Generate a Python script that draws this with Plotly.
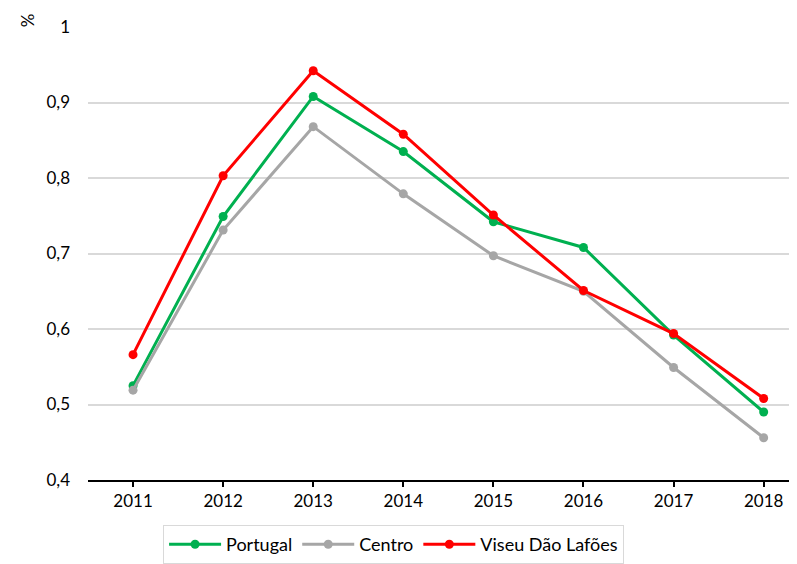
import plotly.graph_objects as go

years = [2011, 2012, 2013, 2014, 2015, 2016, 2017, 2018]
portugal = [0.525, 0.749, 0.908, 0.835, 0.742, 0.708, 0.592, 0.490]
centro = [0.519, 0.731, 0.868, 0.779, 0.697, 0.650, 0.549, 0.456]
viseu = [0.566, 0.803, 0.942, 0.858, 0.751, 0.651, 0.594, 0.508]
y_ticks = [0.4, 0.5, 0.6, 0.7, 0.8, 0.9, 1.0]
y_labels = ["0,4", "0,5", "0,6", "0,7", "0,8", "0,9", "1"]

series = [
    ("Portugal", portugal, "#00B050"),
    ("Centro", centro, "#A6A6A6"),
    ("Viseu Dão Lafões", viseu, "#FF0000"),
]

fig = go.Figure()
for name, vals, color in series:
    fig.add_trace(go.Scatter(
        x=years, y=vals, name=name, mode="lines+markers",
        line=dict(color=color, width=3),
        marker=dict(color=color, size=9),
    ))

fig.update_layout(
    width=789, height=556,
    margin=dict(l=80, r=0, t=19, b=83),
    paper_bgcolor="white", plot_bgcolor="white",
    font=dict(family="Lato, Noto Sans, sans-serif", size=17, color="#000000"),
    showlegend=True,
    legend=dict(
        orientation="h", x=0.431, xanchor="center", y=-0.1, yanchor="top",
        bordercolor="#D9D9D9", borderwidth=1, font=dict(size=18),
        itemwidth=52,
    ),
    xaxis=dict(
        range=[2010.5, 2018.37], tickmode="array", tickvals=years,
        ticktext=[str(y) for y in years],
        showgrid=False, zeroline=False,
        showline=True, linecolor="#000000", linewidth=1.5,
        ticks="outside", ticklen=5, tickcolor="#000000", tickwidth=1.5,
    ),
    yaxis=dict(
        range=[0.4, 1.0], tickmode="array", tickvals=y_ticks, ticktext=y_labels,
        showgrid=True, gridcolor="#D9D9D9", gridwidth=1.5,
        zeroline=False, showline=False, ticks="", ticklabelstandoff=17,
    ),
    annotations=[dict(
        text="%", xref="paper", yref="paper", x=-0.086, y=1.015,
        showarrow=False, textangle=-90, font=dict(size=17),
        xanchor="center", yanchor="middle",
    )],
)

fig.write_html("out.html")
